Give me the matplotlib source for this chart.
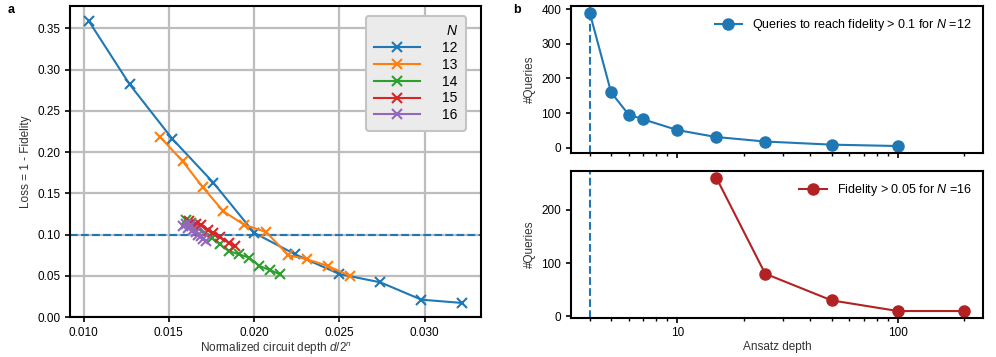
import matplotlib
matplotlib.use("Agg")
import matplotlib.pyplot as plt
from matplotlib.ticker import FormatStrFormatter, NullFormatter

plt.rcParams['font.family'] = ['Liberation Sans', 'DejaVu Sans']
plt.rcParams['mathtext.fontset'] = 'custom'
plt.rcParams['mathtext.it'] = 'Liberation Sans:italic'
plt.rcParams['mathtext.rm'] = 'Liberation Sans'

# panel a: loss vs normalized depth for each N
n_labels = ['12', '13', '14', '15', '16']
depth_12 = [0.0103, 0.0127, 0.0152, 0.0176, 0.0200, 0.0224, 0.0250, 0.0274, 0.0298, 0.0322]
loss_12 = [0.359, 0.282, 0.216, 0.163, 0.102, 0.076, 0.052, 0.042, 0.021, 0.017]
depth_13 = [0.0145, 0.0158, 0.0170, 0.0182, 0.0194, 0.0207, 0.0220, 0.0231, 0.0243, 0.0256]
loss_13 = [0.218, 0.189, 0.157, 0.128, 0.112, 0.103, 0.075, 0.070, 0.062, 0.050]
depth_14 = [0.0160, 0.0163, 0.0167, 0.0171, 0.0175, 0.0180, 0.0185, 0.0191, 0.0197, 0.0203, 0.0209, 0.0215]
loss_14 = [0.118, 0.114, 0.108, 0.102, 0.096, 0.088, 0.080, 0.076, 0.072, 0.062, 0.057, 0.052]
depth_15 = [0.0162, 0.0166, 0.0169, 0.0173, 0.0176, 0.0180, 0.0185, 0.0189]
loss_15 = [0.116, 0.113, 0.111, 0.106, 0.102, 0.097, 0.090, 0.086]
depth_16 = [0.0158, 0.0160, 0.0161, 0.0163, 0.0164, 0.0166, 0.0167, 0.0169, 0.0170, 0.0172]
loss_16 = [0.110, 0.113, 0.108, 0.111, 0.105, 0.103, 0.100, 0.098, 0.095, 0.092]
loss_threshold = 0.1

# panel b
ansatz_12 = [4, 5, 6, 7, 10, 15, 25, 50, 100]
queries_12 = [390, 160, 96, 82, 51, 31, 18, 9, 5]
ansatz_16 = [15, 25, 50, 100, 200]
queries_16 = [260, 80, 30, 10, 10]
min_depth = 4

fig = plt.figure(figsize=(9.96, 3.57), dpi=100)
W, H = 996, 357

ax = fig.add_axes([70/W, 1-317/H, 411/W, 311/H])
series = [(depth_12, loss_12), (depth_13, loss_13), (depth_14, loss_14),
          (depth_15, loss_15), (depth_16, loss_16)]
for i, (xs, ys) in enumerate(series):
    ax.plot(xs, ys, marker='x', color='C%d' % i, lw=1.5, ms=7, mew=1.5,
            label=n_labels[i], zorder=3)
ax.axhline(loss_threshold, color='C0', ls='--', lw=1.5, zorder=2)
ax.set_ylim(0, 0.377)
ax.grid(True, color='#bdbdbd', lw=1.6)
ax.set_axisbelow(True)
ax.xaxis.set_major_formatter(FormatStrFormatter('%.3f'))
ax.yaxis.set_major_formatter(FormatStrFormatter('%.2f'))
ax.tick_params(labelsize=8.5, width=1.2)
for s in ax.spines.values():
    s.set_linewidth(1.5)
ax.set_xlabel('Normalized circuit depth $d/2^n$', fontsize=8.5, color='#333333', labelpad=1)
ax.set_ylabel('Loss = 1 - Fidelity', fontsize=8.5, color='#333333')
leg = ax.legend(title='$N$', loc='upper right', bbox_to_anchor=(0.9635, 0.968),
                borderaxespad=0, fontsize=10, title_fontsize=10, alignment='right',
                handlelength=3.3, handletextpad=1.6, labelspacing=0.2,
                facecolor='#ebebeb', edgecolor='#c4c4c4', framealpha=1,
                borderpad=0.6)
leg.get_frame().set_linewidth(1.5)

ax1 = fig.add_axes([571/W, 1-152.7/H, 412/W, 146.7/H])
ax2 = fig.add_axes([571/W, 1-317.7/H, 412/W, 146.7/H], sharex=ax1)
ax1.plot(ansatz_12, queries_12, marker='o', color='#1f77b4', lw=1.5, ms=8,
         label='Queries to reach fidelity > 0.1 for $N$ =12')
ax2.plot(ansatz_16, queries_16, marker='o', color='#b22222', lw=1.5, ms=8,
         label='Fidelity > 0.05 for $N$ =16')
for a in (ax1, ax2):
    a.axvline(min_depth, color='C0', ls='--', lw=1.5, zorder=1)
    a.set_xscale('log')
    a.set_ylabel('#Queries', fontsize=8.5, color='#333333')
    a.tick_params(labelsize=8.5, width=1.2)
    a.tick_params(which='minor', width=1.0)
    for s in a.spines.values():
        s.set_linewidth(1.5)
    a.legend(loc='upper right', frameon=False, fontsize=9, handlelength=2.2)
ax1.set_yticks([0, 100, 200, 300, 400])
ax2.set_yticks([0, 100, 200])
ax2.xaxis.set_major_formatter(FormatStrFormatter('%d'))
ax2.xaxis.set_minor_formatter(NullFormatter())
ax1.tick_params(labelbottom=False)
ax2.set_xlabel('Ansatz depth', fontsize=8.5, color='#333333', labelpad=1)

fig.text(8/W, 1-10/H, 'a', fontsize=9, fontweight='bold', va='center')
fig.text(513/W, 1-10/H, 'b', fontsize=9, fontweight='bold', va='center')

fig.savefig('out.png', dpi=100)
